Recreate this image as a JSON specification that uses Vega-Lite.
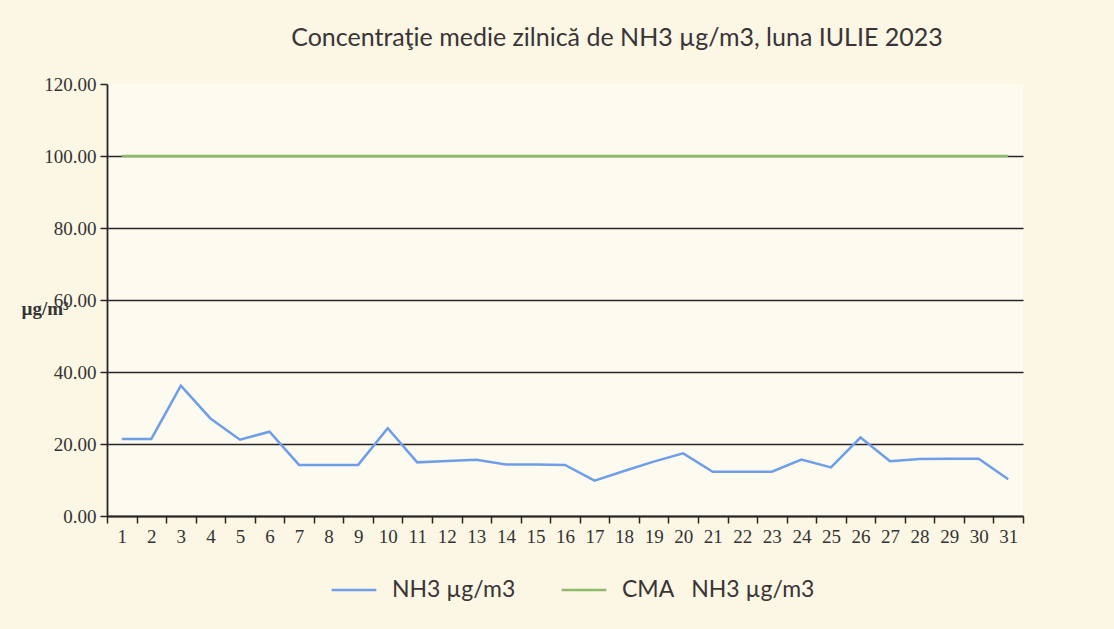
{
  "$schema": "https://vega.github.io/schema/vega-lite/v6.json",
  "width": 916,
  "height": 432,
  "autosize": {"type": "none"},
  "padding": {"left": 107, "top": 84, "right": 91, "bottom": 113},
  "background": "#FBF7E4",
  "title": {
    "text": "Concentraţie medie zilnică de NH3 µg/m3, luna IULIE 2023",
    "font": "Lato",
    "fontSize": 25,
    "fontWeight": "normal",
    "color": "#3a3436",
    "dx": 52,
    "offset": 24
  },
  "data": {
    "values": [
      {"zi": 1, "serie": "NH3 µg/m3", "valoare": 21.4},
      {"zi": 2, "serie": "NH3 µg/m3", "valoare": 21.4},
      {"zi": 3, "serie": "NH3 µg/m3", "valoare": 36.2},
      {"zi": 4, "serie": "NH3 µg/m3", "valoare": 27.1},
      {"zi": 5, "serie": "NH3 µg/m3", "valoare": 21.2},
      {"zi": 6, "serie": "NH3 µg/m3", "valoare": 23.4},
      {"zi": 7, "serie": "NH3 µg/m3", "valoare": 14.2},
      {"zi": 8, "serie": "NH3 µg/m3", "valoare": 14.2},
      {"zi": 9, "serie": "NH3 µg/m3", "valoare": 14.2},
      {"zi": 10, "serie": "NH3 µg/m3", "valoare": 24.4},
      {"zi": 11, "serie": "NH3 µg/m3", "valoare": 14.9},
      {"zi": 12, "serie": "NH3 µg/m3", "valoare": 15.3},
      {"zi": 13, "serie": "NH3 µg/m3", "valoare": 15.6},
      {"zi": 14, "serie": "NH3 µg/m3", "valoare": 14.3},
      {"zi": 15, "serie": "NH3 µg/m3", "valoare": 14.3},
      {"zi": 16, "serie": "NH3 µg/m3", "valoare": 14.2},
      {"zi": 17, "serie": "NH3 µg/m3", "valoare": 9.8},
      {"zi": 18, "serie": "NH3 µg/m3", "valoare": 12.5},
      {"zi": 19, "serie": "NH3 µg/m3", "valoare": 15.1},
      {"zi": 20, "serie": "NH3 µg/m3", "valoare": 17.4},
      {"zi": 21, "serie": "NH3 µg/m3", "valoare": 12.3},
      {"zi": 22, "serie": "NH3 µg/m3", "valoare": 12.3},
      {"zi": 23, "serie": "NH3 µg/m3", "valoare": 12.3},
      {"zi": 24, "serie": "NH3 µg/m3", "valoare": 15.7},
      {"zi": 25, "serie": "NH3 µg/m3", "valoare": 13.5},
      {"zi": 26, "serie": "NH3 µg/m3", "valoare": 21.8},
      {"zi": 27, "serie": "NH3 µg/m3", "valoare": 15.2},
      {"zi": 28, "serie": "NH3 µg/m3", "valoare": 15.8},
      {"zi": 29, "serie": "NH3 µg/m3", "valoare": 15.9},
      {"zi": 30, "serie": "NH3 µg/m3", "valoare": 15.9},
      {"zi": 31, "serie": "NH3 µg/m3", "valoare": 10.2},
      {"zi": 1, "serie": "CMA\u00a0\u00a0\u00a0NH3 µg/m3", "valoare": 100},
      {"zi": 2, "serie": "CMA\u00a0\u00a0\u00a0NH3 µg/m3", "valoare": 100},
      {"zi": 3, "serie": "CMA\u00a0\u00a0\u00a0NH3 µg/m3", "valoare": 100},
      {"zi": 4, "serie": "CMA\u00a0\u00a0\u00a0NH3 µg/m3", "valoare": 100},
      {"zi": 5, "serie": "CMA\u00a0\u00a0\u00a0NH3 µg/m3", "valoare": 100},
      {"zi": 6, "serie": "CMA\u00a0\u00a0\u00a0NH3 µg/m3", "valoare": 100},
      {"zi": 7, "serie": "CMA\u00a0\u00a0\u00a0NH3 µg/m3", "valoare": 100},
      {"zi": 8, "serie": "CMA\u00a0\u00a0\u00a0NH3 µg/m3", "valoare": 100},
      {"zi": 9, "serie": "CMA\u00a0\u00a0\u00a0NH3 µg/m3", "valoare": 100},
      {"zi": 10, "serie": "CMA\u00a0\u00a0\u00a0NH3 µg/m3", "valoare": 100},
      {"zi": 11, "serie": "CMA\u00a0\u00a0\u00a0NH3 µg/m3", "valoare": 100},
      {"zi": 12, "serie": "CMA\u00a0\u00a0\u00a0NH3 µg/m3", "valoare": 100},
      {"zi": 13, "serie": "CMA\u00a0\u00a0\u00a0NH3 µg/m3", "valoare": 100},
      {"zi": 14, "serie": "CMA\u00a0\u00a0\u00a0NH3 µg/m3", "valoare": 100},
      {"zi": 15, "serie": "CMA\u00a0\u00a0\u00a0NH3 µg/m3", "valoare": 100},
      {"zi": 16, "serie": "CMA\u00a0\u00a0\u00a0NH3 µg/m3", "valoare": 100},
      {"zi": 17, "serie": "CMA\u00a0\u00a0\u00a0NH3 µg/m3", "valoare": 100},
      {"zi": 18, "serie": "CMA\u00a0\u00a0\u00a0NH3 µg/m3", "valoare": 100},
      {"zi": 19, "serie": "CMA\u00a0\u00a0\u00a0NH3 µg/m3", "valoare": 100},
      {"zi": 20, "serie": "CMA\u00a0\u00a0\u00a0NH3 µg/m3", "valoare": 100},
      {"zi": 21, "serie": "CMA\u00a0\u00a0\u00a0NH3 µg/m3", "valoare": 100},
      {"zi": 22, "serie": "CMA\u00a0\u00a0\u00a0NH3 µg/m3", "valoare": 100},
      {"zi": 23, "serie": "CMA\u00a0\u00a0\u00a0NH3 µg/m3", "valoare": 100},
      {"zi": 24, "serie": "CMA\u00a0\u00a0\u00a0NH3 µg/m3", "valoare": 100},
      {"zi": 25, "serie": "CMA\u00a0\u00a0\u00a0NH3 µg/m3", "valoare": 100},
      {"zi": 26, "serie": "CMA\u00a0\u00a0\u00a0NH3 µg/m3", "valoare": 100},
      {"zi": 27, "serie": "CMA\u00a0\u00a0\u00a0NH3 µg/m3", "valoare": 100},
      {"zi": 28, "serie": "CMA\u00a0\u00a0\u00a0NH3 µg/m3", "valoare": 100},
      {"zi": 29, "serie": "CMA\u00a0\u00a0\u00a0NH3 µg/m3", "valoare": 100},
      {"zi": 30, "serie": "CMA\u00a0\u00a0\u00a0NH3 µg/m3", "valoare": 100},
      {"zi": 31, "serie": "CMA\u00a0\u00a0\u00a0NH3 µg/m3", "valoare": 100}
    ]
  },
  "mark": {"type": "line", "strokeWidth": 2.5},
  "encoding": {
    "x": {
      "field": "zi",
      "type": "ordinal",
      "sort": "ascending",
      "scale": {"type": "band", "paddingInner": 0, "paddingOuter": 0},
      "axis": {
        "title": null,
        "labelAngle": 0,
        "labelFont": "Liberation Serif",
        "labelFontSize": 19,
        "labelColor": "#333",
        "labelPadding": 4,
        "tickBand": "extent",
        "tickSize": 7,
        "tickColor": "#2b2424",
        "tickWidth": 1.5,
        "domainColor": "#2b2424",
        "domainWidth": 1.8,
        "grid": false
      }
    },
    "y": {
      "field": "valoare",
      "type": "quantitative",
      "scale": {"domain": [0, 120], "nice": false},
      "axis": {
        "values": [0, 20, 40, 60, 80, 100, 120],
        "format": ".2f",
        "title": "µg/m³",
        "titleAngle": 0,
        "titleFont": "Liberation Serif",
        "titleFontSize": 19,
        "titleFontWeight": "bold",
        "titleColor": "#333",
        "titleX": -86,
        "titleY": 234,
        "titleAlign": "left",
        "labelFont": "Liberation Serif",
        "labelFontSize": 19,
        "labelColor": "#333",
        "labelPadding": 4,
        "tickSize": 7,
        "tickColor": "#2b2424",
        "tickWidth": 1.5,
        "domainColor": "#2b2424",
        "domainWidth": 1.8,
        "grid": true,
        "gridColor": {"condition": {"test": "datum.value === 120", "value": "transparent"}, "value": "#2b2424"},
        "gridWidth": 1.5
      }
    },
    "color": {
      "field": "serie",
      "type": "nominal",
      "scale": {
        "domain": ["NH3 µg/m3", "CMA\u00a0\u00a0\u00a0NH3 µg/m3"],
        "range": ["#6f9ee9", "#8cba68"]
      },
      "legend": {
        "title": null,
        "orient": "none",
        "direction": "horizontal",
        "legendX": 223,
        "legendY": 482,
        "symbolType": "stroke",
        "symbolSize": 2000,
        "symbolStrokeWidth": 2.5,
        "labelFont": "Lato",
        "labelFontSize": 23,
        "labelLimit": 0,
        "labelColor": "#3a3436",
        "labelOffset": 14,
        "columnPadding": 40
      }
    }
  },
  "config": {
    "view": {"stroke": null, "fill": "#FDFBF0"}
  }
}
